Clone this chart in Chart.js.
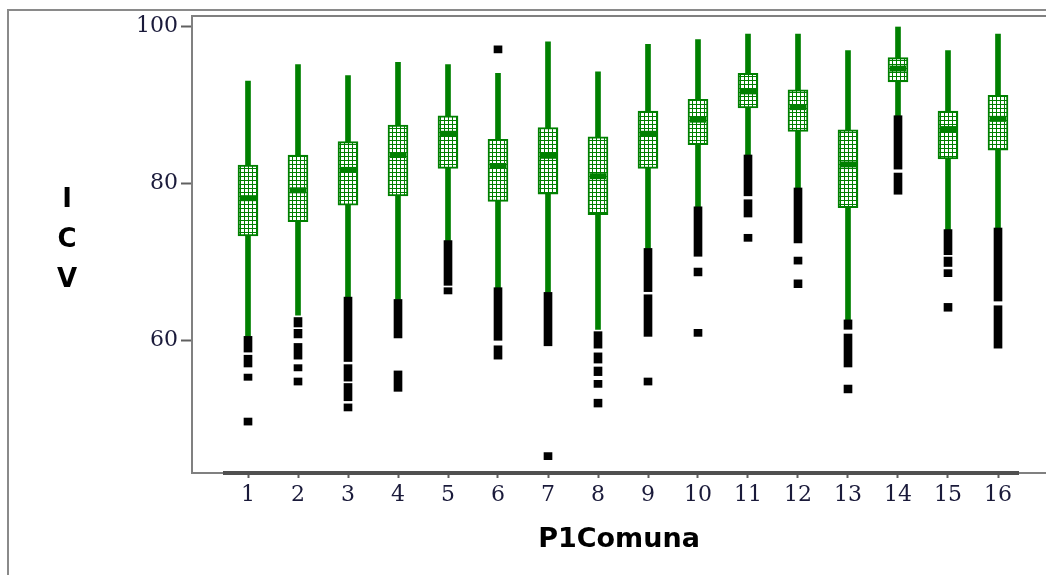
<!DOCTYPE html>
<html>
<head>
<meta charset="utf-8">
<title>ICV por P1Comuna</title>
<script src="https://cdn.jsdelivr.net/npm/chart.js@4"></script>
<style>
  html, body { margin: 0; padding: 0; background: #fff; overflow: hidden; }
  canvas { display: block; }
</style>
</head>
<body>
<canvas id="boxChart" width="1046" height="575"></canvas>
<script>
// values
const comunas = [1, 2, 3, 4, 5, 6, 7, 8, 9, 10, 11, 12, 13, 14, 15, 16];
const whiskerHigh = [93.0, 95.1, 93.7, 95.4, 95.1, 94.0, 98.0, 94.2, 97.7, 98.3, 99.0, 99.0, 96.9, 99.9, 96.9, 99.0];
const q3 = [82.3, 83.6, 85.3, 87.4, 88.6, 85.6, 87.1, 85.9, 89.2, 90.7, 94.0, 91.9, 86.8, 96.0, 89.2, 91.2];
const medians = [78.1, 79.1, 81.7, 83.6, 86.3, 82.2, 83.5, 80.9, 86.3, 88.1, 91.7, 89.7, 82.4, 94.6, 86.9, 88.2];
const q1 = [73.3, 75.1, 77.2, 78.4, 81.9, 77.7, 78.6, 76.0, 81.9, 84.9, 89.6, 86.6, 76.9, 92.9, 83.1, 84.2];
const whiskerLow = [60.5, 63.2, 65.5, 65.2, 72.7, 66.7, 66.1, 61.4, 71.7, 77.0, 83.6, 79.4, 62.6, 88.6, 74.1, 74.3];
// outliers: [comuna, low, high] - overlapping points show up as black runs
const outlierRuns = [
  [1, 58.5, 60.5], [1, 56.6, 58.1], [1, 54.9, 55.7], [1, 49.2, 50.1],
  [2, 61.7, 62.9], [2, 60.3, 61.4], [2, 57.6, 59.6], [2, 56.1, 56.9], [2, 54.3, 55.2],
  [3, 57.3, 65.5], [3, 54.8, 56.9], [3, 52.3, 54.5], [3, 51.0, 51.9],
  [4, 60.3, 65.2], [4, 53.5, 56.1],
  [5, 67.0, 72.7], [5, 65.9, 66.7],
  [6, 96.6, 97.5], [6, 60.0, 66.7], [6, 57.6, 59.3],
  [7, 59.3, 66.1], [7, 44.8, 45.7],
  [8, 59.0, 61.1], [8, 57.1, 58.4], [8, 55.5, 56.6], [8, 54.0, 54.9], [8, 51.5, 52.5],
  [9, 66.2, 71.7], [9, 60.5, 65.8], [9, 54.3, 55.2],
  [10, 70.7, 77.0], [10, 68.2, 69.2], [10, 60.5, 61.4],
  [11, 78.4, 83.6], [11, 75.7, 77.9], [11, 72.6, 73.5],
  [12, 72.4, 79.4], [12, 69.7, 70.6], [12, 66.7, 67.7],
  [13, 61.4, 62.6], [13, 56.6, 60.8], [13, 53.3, 54.3],
  [14, 81.8, 88.6], [14, 78.6, 81.3],
  [15, 70.9, 74.1], [15, 69.4, 70.6], [15, 68.1, 69.0], [15, 63.7, 64.7],
  [16, 65.0, 74.3], [16, 59.0, 64.4]
];
const yTicks = [60, 80, 100];

const green = '#008000';

// dotted fill for the boxes
const tile = document.createElement('canvas');
tile.width = 4;
tile.height = 4;
const tctx = tile.getContext('2d');
tctx.fillStyle = green;
tctx.fillRect(0, 0, 4, 4);
tctx.fillStyle = '#ffffff';
tctx.fillRect(1, 1, 3, 3);
const ctx = document.getElementById('boxChart').getContext('2d');
const boxFill = ctx.createPattern(tile, 'repeat');

const framePlugin = {
  id: 'frame',
  beforeDraw(chart) {
    const c = chart.ctx;
    c.save();
    c.fillStyle = '#fff';
    c.fillRect(0, 0, chart.width, chart.height);
    c.strokeStyle = '#8a8a8a';
    c.lineWidth = 2;
    c.strokeRect(8, 10, chart.width + 20, chart.height + 20);
    c.restore();
  },
  afterDraw(chart) {
    const c = chart.ctx;
    const a = chart.chartArea;
    const x = chart.scales.x;
    c.save();
    c.strokeStyle = '#808080';
    c.lineWidth = 2;
    c.beginPath();
    c.moveTo(a.left - 1, a.top);
    c.lineTo(chart.width, a.top);
    c.stroke();
    c.strokeStyle = '#505050';
    c.lineWidth = 4;
    c.beginPath();
    c.moveTo(x.getPixelForValue(0.5), a.bottom);
    c.lineTo(x.getPixelForValue(16.42), a.bottom);
    c.stroke();
    c.fillStyle = '#000';
    c.font = 'bold 26px "DejaVu Sans"';
    c.textAlign = 'center';
    c.textBaseline = 'middle';
    ['I', 'C', 'V'].forEach((ch, i) => c.fillText(ch, 67, 200 + i * 40));
    c.restore();
  }
};

new Chart(ctx, {
  type: 'bar',
  data: {
    datasets: [
      {
        label: 'outliers',
        data: outlierRuns.map(r => ({ x: r[0], y: [r[1], r[2]] })),
        backgroundColor: '#000',
        barThickness: 8,
        grouped: false,
        order: 0
      },
      {
        type: 'line',
        label: 'median',
        data: comunas.map((c, i) => ({ x: c, y: medians[i] })),
        showLine: false,
        pointStyle: 'line',
        pointRadius: 8,
        pointBorderWidth: 6,
        pointBorderColor: green,
        order: 1
      },
      {
        label: 'box',
        data: comunas.map((c, i) => ({ x: c, y: [q1[i], q3[i]] })),
        backgroundColor: boxFill,
        borderColor: green,
        borderWidth: 2,
        borderSkipped: false,
        barThickness: 20,
        grouped: false,
        order: 2
      },
      {
        label: 'whisker',
        data: comunas.map((c, i) => ({ x: c, y: [whiskerLow[i], whiskerHigh[i]] })),
        backgroundColor: green,
        barThickness: 5,
        grouped: false,
        order: 3
      }
    ]
  },
  options: {
    responsive: false,
    animation: false,
    events: [],
    layout: { autoPadding: false, padding: { top: 16, left: 0, right: 0, bottom: 0 } },
    plugins: {
      legend: { display: false },
      tooltip: { enabled: false }
    },
    scales: {
      x: {
        type: 'linear',
        offset: false,
        min: -0.12,
        max: 16.96,
        afterBuildTicks: s => { s.ticks = comunas.map(v => ({ value: v })); },
        afterFit: s => { s.height = 102; s.paddingLeft = 0; s.paddingRight = 0; },
        ticks: {
          autoSkip: false,
          maxRotation: 0,
          padding: 4,
          color: '#1a1a3a',
          font: { family: 'DejaVu Serif', size: 22 },
          callback: v => String(v)
        },
        grid: { drawOnChartArea: false, offset: false, tickLength: 5, tickWidth: 2, tickColor: '#606060' },
        border: { display: true, color: '#808080', width: 2 },
        title: {
          display: true,
          text: 'P1Comuna',
          color: '#000',
          font: { family: 'DejaVu Sans', weight: 'bold', size: 27 },
          padding: { top: 0, bottom: 19 }
        }
      },
      y: {
        min: 43.1,
        max: 101.3,
        afterBuildTicks: s => { s.ticks = yTicks.map(v => ({ value: v })); },
        afterFit: s => { s.width = 192; s.paddingTop = 0; s.paddingBottom = 0; },
        ticks: {
          padding: 3,
          color: '#1a1a3a',
          font: { family: 'DejaVu Serif', size: 22 }
        },
        grid: { drawOnChartArea: false, tickLength: 11, tickWidth: 2, tickColor: '#606060' },
        border: { display: true, color: '#808080', width: 2 }
      }
    }
  },
  plugins: [framePlugin]
});
</script>
</body>
</html>
